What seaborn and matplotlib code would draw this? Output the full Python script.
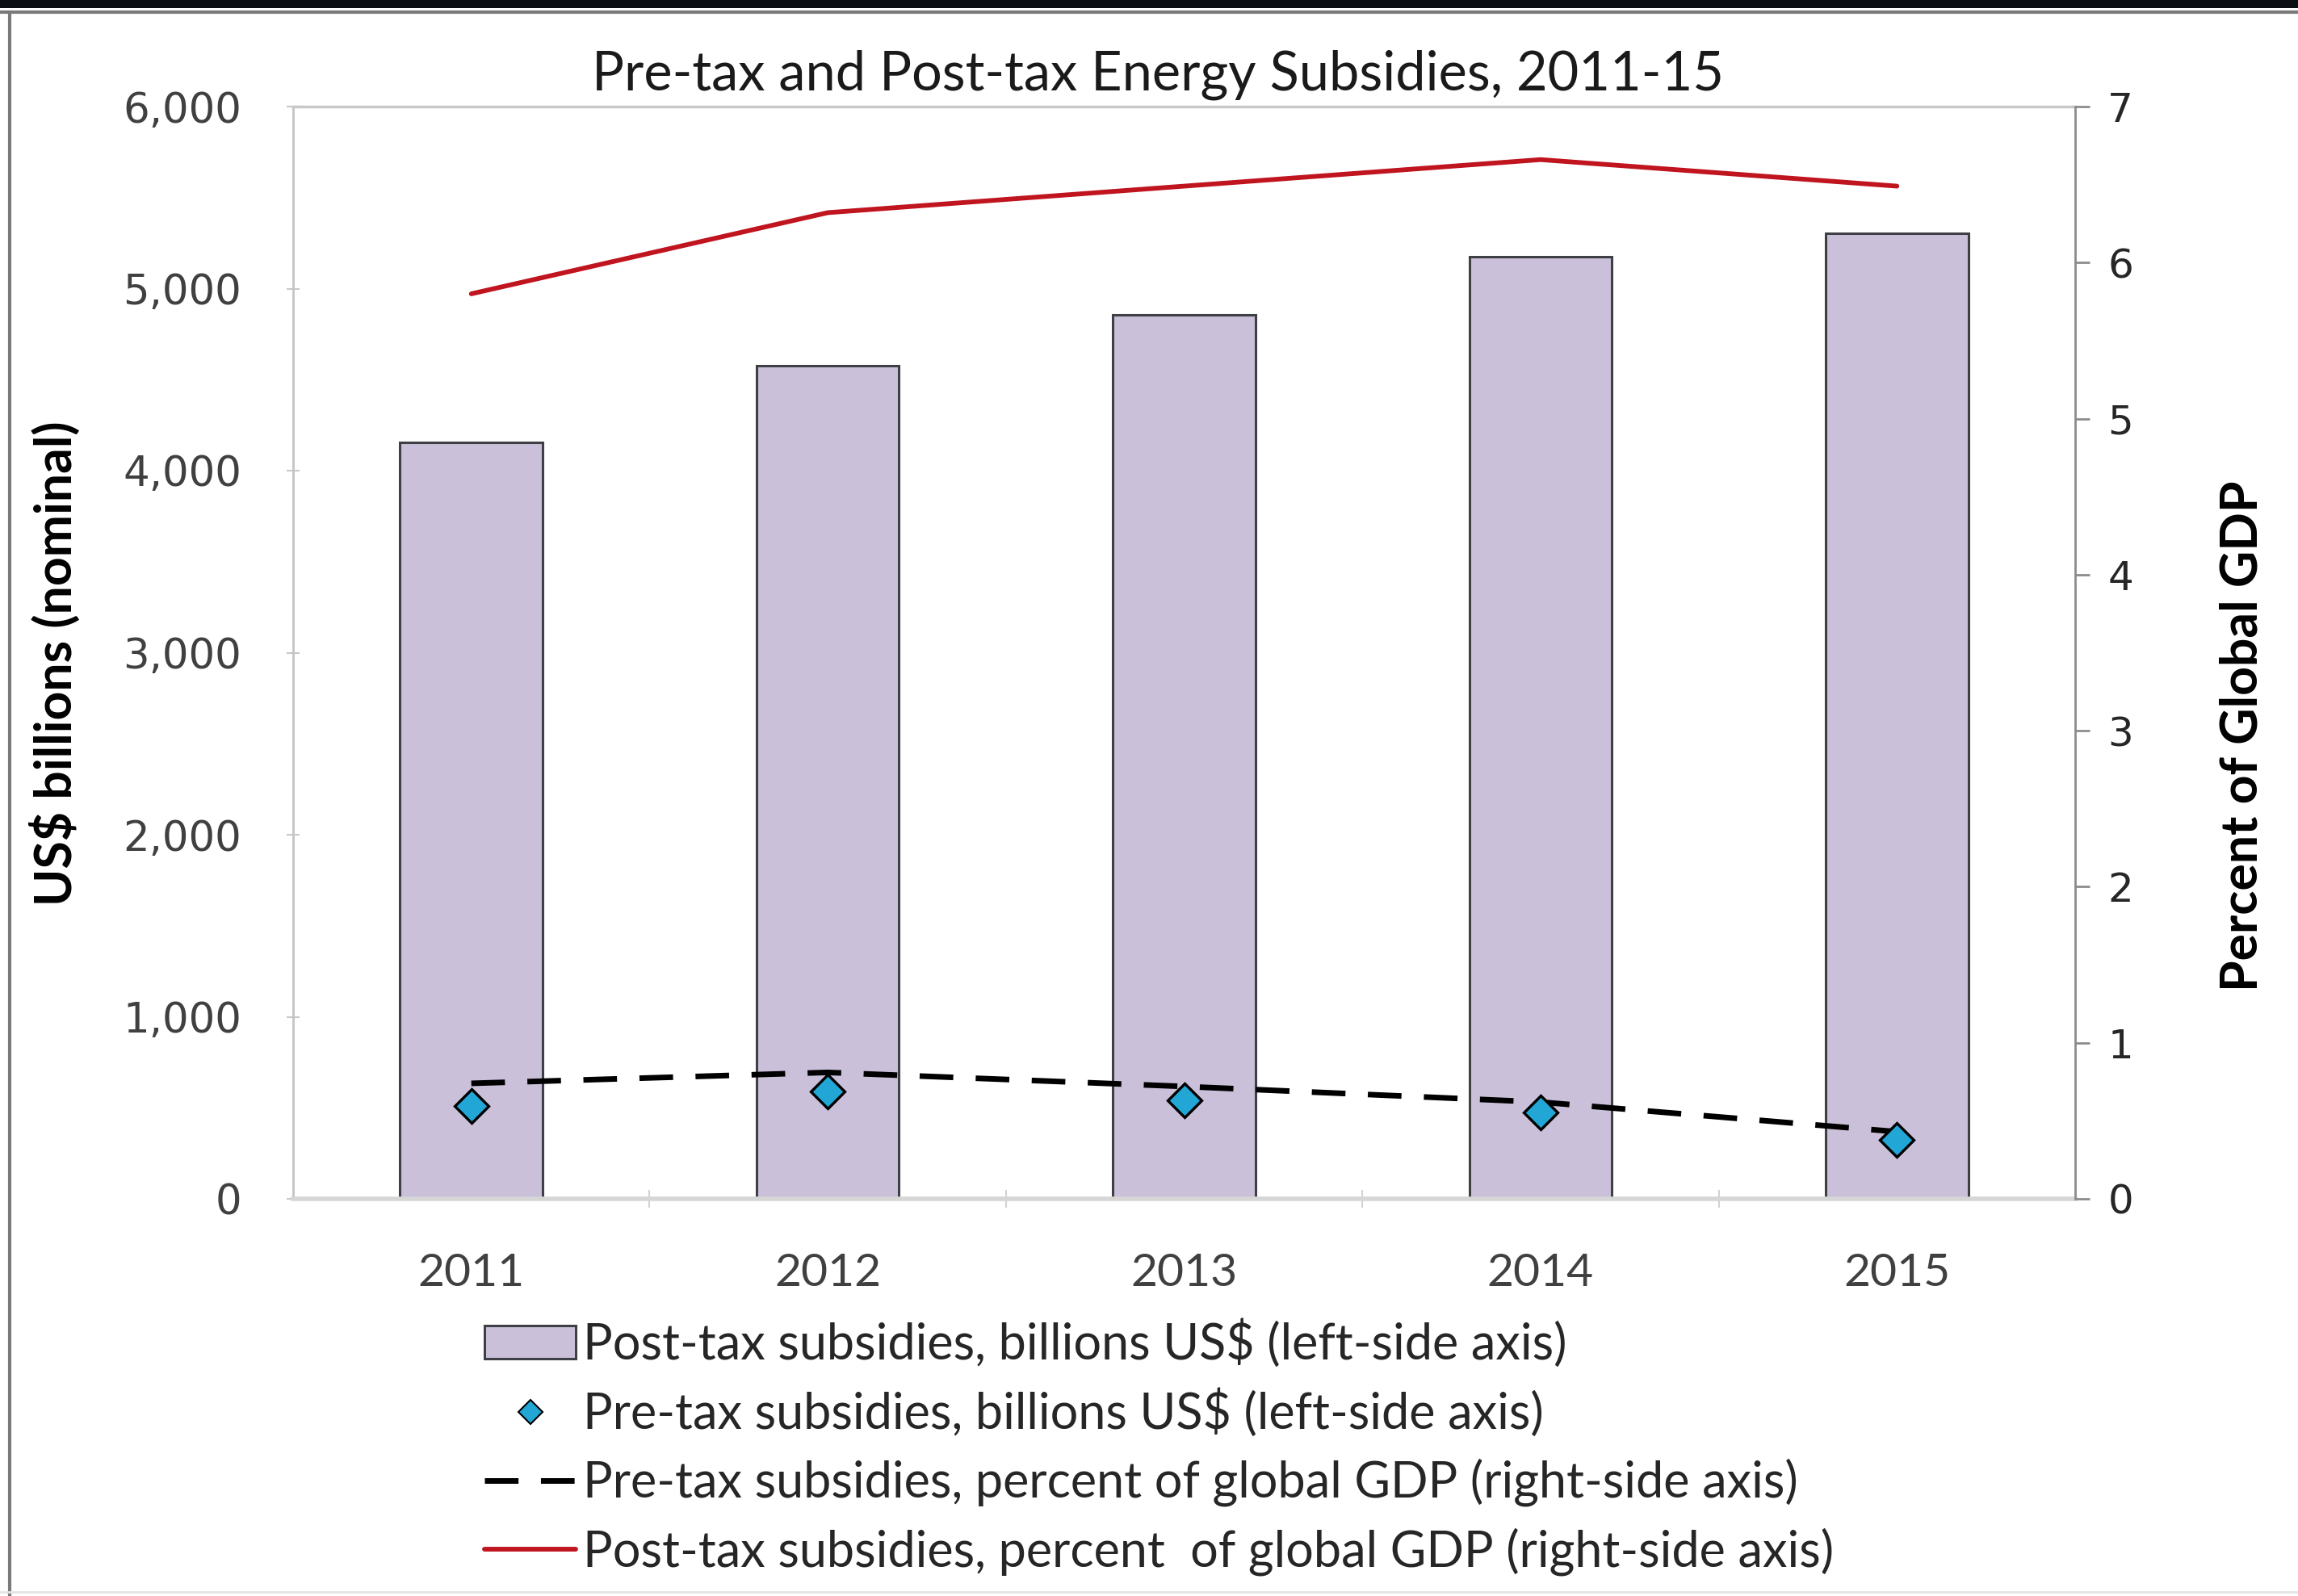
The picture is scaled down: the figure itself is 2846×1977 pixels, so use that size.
import matplotlib
matplotlib.use("Agg")
import matplotlib.pyplot as plt
import seaborn as sns
import pandas as pd
from matplotlib.lines import Line2D
from matplotlib.patches import Patch, Rectangle
from matplotlib.ticker import FixedLocator, FuncFormatter

# ---- data -------------------------------------------------------------
years = ["2011", "2012", "2013", "2014", "2015"]
post_tax_usd = [4155, 4575, 4855, 5175, 5305]          # billions US$, left axis
pre_tax_usd = [510, 590, 541, 475, 324]                # billions US$, left axis
pre_tax_pct_gdp = [0.74, 0.81, 0.72, 0.62, 0.43]       # percent of global GDP, right axis
post_tax_pct_gdp = [5.80, 6.32, 6.49, 6.66, 6.49]      # percent of global GDP, right axis

left_ticks = [0, 1000, 2000, 3000, 4000, 5000, 6000]
right_ticks = [0, 1, 2, 3, 4, 5, 6, 7]

title = "Pre-tax and Post-tax Energy Subsidies, 2011-15"
left_label = "US$ billions (nominal)"
right_label = "Percent of Global GDP"
legend_labels = [
    "Post-tax subsidies, billions US$ (left-side axis)",
    "Pre-tax subsidies, billions US$ (left-side axis)",
    "Pre-tax subsidies, percent of global GDP (right-side axis)",
    "Post-tax subsidies, percent  of global GDP (right-side axis)",
]

df = pd.DataFrame({
    "year": years,
    "post_usd": post_tax_usd,
    "pre_usd": pre_tax_usd,
    "pre_pct": pre_tax_pct_gdp,
    "post_pct": post_tax_pct_gdp,
})

# ---- style ------------------------------------------------------------
sns.set_theme(style="white")
plt.rcParams["font.family"] = ["Lato", "DejaVu Sans"]

BAR_FILL = "#CBC0DA"
BAR_EDGE = "#3F3F46"
DIAMOND = "#22A6D5"
RED = "#C0141F"
TEXT = "#262626"
TICK_TEXT = "#404040"

W, H = 2846, 1977
fig = plt.figure(figsize=(W / 100, H / 100), dpi=100)
fig.patch.set_facecolor("white")

ax = fig.add_axes([363 / W, 1 - 1485 / H, (2570 - 363) / W, (1485 - 132) / H])

# post-tax bars (left axis)
sns.barplot(data=df, x="year", y="post_usd", ax=ax, color=BAR_FILL,
            width=0.4, edgecolor=BAR_EDGE, linewidth=2.2, saturation=1,
            zorder=2)
ax.set_xlim(-0.5, 4.5)
ax.set_ylim(0, 6000)

# right axis: percent of global GDP
ax2 = ax.twinx()
sns.pointplot(data=df, x="year", y="pre_pct", ax=ax2, color="black",
              marker="", linestyle=(0, (6.0, 4.0)), linewidth=5.0,
              errorbar=None)
sns.pointplot(data=df, x="year", y="post_pct", ax=ax2, color=RED,
              marker="", linestyle="-", linewidth=4.2, errorbar=None)
ax2.set_ylim(0, 7)
ax2.set_xlim(-0.5, 4.5)

# pre-tax diamonds on the left scale, drawn above the lines
ax3 = ax.twinx()
sns.pointplot(data=df, x="year", y="pre_usd", ax=ax3, color=DIAMOND,
              marker="D", linestyle="none", markersize=21,
              markeredgecolor="black", markeredgewidth=2.4,
              markerfacecolor=DIAMOND, errorbar=None)
ax3.set_ylim(0, 6000)
ax3.set_xlim(-0.5, 4.5)
ax3.axis("off")

# ---- left axis ----------------------------------------------------------
ax.yaxis.set_major_locator(FixedLocator(left_ticks))
ax.yaxis.set_major_formatter(FuncFormatter(lambda v, p: f"{int(v):,}"))
ax.tick_params(axis="y", which="major", left=True, direction="inout",
               length=12, width=1.5, color="#C8C8C8", pad=40,
               labelsize=37, labelcolor=TICK_TEXT)
for lab in ax.get_yticklabels():
    lab.set_fontfamily("DejaVu Sans")
ax.set_ylabel(left_label, fontsize=45, fontweight="bold", color="black",
              labelpad=0)
ax.yaxis.set_label_coords(-0.119, 0.49)

# ---- x axis -------------------------------------------------------------
ax.set_xlabel("")
ax.tick_params(axis="x", which="major", bottom=False, pad=42,
               labelsize=41, labelcolor=TICK_TEXT)
ax.xaxis.set_minor_locator(FixedLocator([0.5, 1.5, 2.5, 3.5]))
ax.tick_params(axis="x", which="minor", bottom=True, direction="inout",
               length=16, width=1.5, color="#D2D2D2")

# ---- right axis ---------------------------------------------------------
ax2.yaxis.set_major_locator(FixedLocator(right_ticks))
ax2.tick_params(axis="y", which="major", right=True, direction="out",
                length=13, width=2, color="#8C8C8C", pad=16,
                labelsize=36, labelcolor=TEXT)
for lab in ax2.get_yticklabels():
    lab.set_fontfamily("DejaVu Sans")
ax2.set_ylabel(right_label, fontsize=45, fontweight="bold", color="black",
               rotation=90)
ax2.yaxis.set_label_coords(1.081, 0.424)

# ---- spines -------------------------------------------------------------
for a in (ax, ax2):
    for s in a.spines.values():
        s.set_visible(False)
ax.spines["left"].set_visible(True)
ax.spines["left"].set_color("#C4C4C4")
ax.spines["left"].set_linewidth(2)
ax.spines["top"].set_visible(True)
ax.spines["top"].set_color("#C8C8C8")
ax.spines["top"].set_linewidth(2.5)
ax.spines["bottom"].set_visible(True)
ax.spines["bottom"].set_color("#D6D6D6")
ax.spines["bottom"].set_linewidth(4)
ax2.spines["right"].set_visible(True)
ax2.spines["right"].set_color("#8C8C8C")
ax2.spines["right"].set_linewidth(2)

# ---- title --------------------------------------------------------------
fig.text(1434 / W, 1 - 93 / H, title, ha="center", va="center",
         fontsize=48, color="#1a1a1a")

# ---- legend -------------------------------------------------------------
handles = [
    Patch(facecolor=BAR_FILL, edgecolor=BAR_EDGE, linewidth=2.2),
    Line2D([], [], linestyle="none", marker="D", markersize=15,
           markerfacecolor=DIAMOND, markeredgecolor="black",
           markeredgewidth=1.5),
    Line2D([], [], color="black", linewidth=5.0, linestyle=(0, (6.0, 4.0))),
    Line2D([], [], color=RED, linewidth=4.2),
]
fig.legend(handles, legend_labels, loc="upper left",
           bbox_to_anchor=(600 / W, 1 - 1634 / H), frameon=False,
           fontsize=44, handlelength=1.85, handleheight=0.65,
           handletextpad=0.15, labelspacing=0.42, borderaxespad=0,
           borderpad=0, labelcolor=TEXT)

# ---- outer frame --------------------------------------------------------
fig.patches.append(Rectangle((0, 1 - 10 / H), 1, 10 / H,
                             transform=fig.transFigure, facecolor="#0b0f14",
                             edgecolor="none", zorder=0))
fig.lines.append(Line2D([0, 1], [1 - 15 / H, 1 - 15 / H],
                        transform=fig.transFigure, color="#7a7a7a",
                        linewidth=3))
fig.lines.append(Line2D([12 / W, 12 / W], [0, 1 - 15 / H],
                        transform=fig.transFigure, color="#7a7a7a",
                        linewidth=3))
fig.lines.append(Line2D([0, 1], [5 / H, 5 / H],
                        transform=fig.transFigure, color="#E4E4E4",
                        linewidth=2))

fig.savefig("out.png", dpi=100)
